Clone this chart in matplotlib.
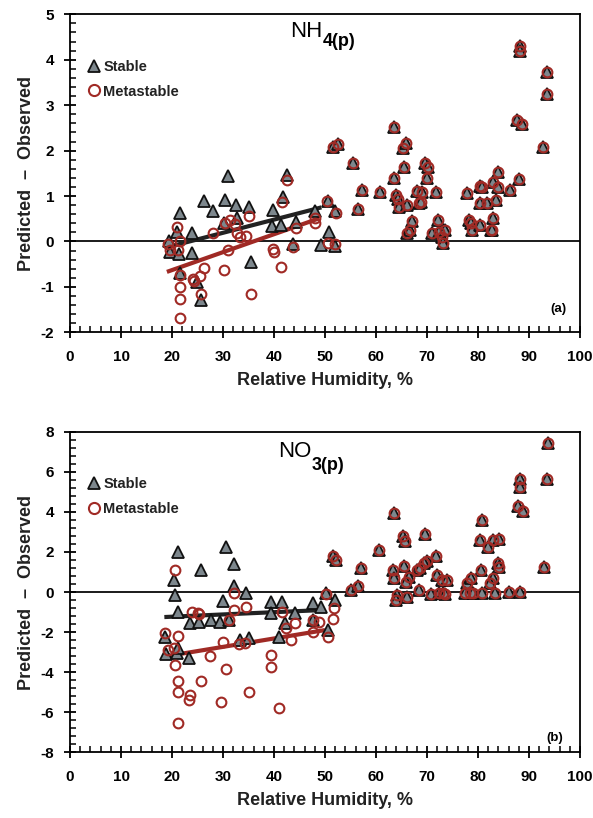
import matplotlib
matplotlib.use("Agg")
import matplotlib.pyplot as plt
from matplotlib.ticker import MultipleLocator
from matplotlib.lines import Line2D

plt.rcParams['font.family'] = ['Liberation Sans', 'DejaVu Sans']
plt.rcParams['axes.unicode_minus'] = False

# ---- NH4 panel data ----
# points where stable and metastable results coincide (RH > ~50 %)
nh4_both_rh = [51.5, 52.5, 55.4, 57.3, 56.5, 60.8, 63.5, 63.5, 64.0, 64.4, 64.5,
               65.3, 65.5, 65.8, 66.1, 66.1, 66.6, 67.0, 68.1, 68.4, 68.8, 69.1,
               69.7, 70.0, 70.2, 70.9, 71.7, 72.2, 72.3, 72.9, 73.1, 73.6, 77.8,
               78.3, 78.7, 78.8, 80.4, 80.4, 80.4, 80.8, 81.7, 82.6, 82.8, 83.0,
               83.0, 83.5, 83.9, 84.0, 86.2, 87.6, 88.0, 88.3, 88.3, 88.6, 92.8,
               93.6, 93.6]
nh4_both = [2.08, 2.15, 1.72, 1.13, 0.72, 1.08, 2.52, 1.40, 1.02, 0.94, 0.76,
            2.05, 1.64, 2.16, 0.80, 0.19, 0.25, 0.45, 1.11, 0.84, 0.87, 1.09,
            1.72, 1.39, 1.64, 0.18, 1.08, 0.47, 0.21, 0.10, -0.04, 0.25, 1.06,
            0.48, 0.40, 0.26, 1.22, 0.84, 0.36, 1.20, 0.85, 0.26, 0.25, 1.31,
            0.51, 0.91, 1.53, 1.20, 1.14, 2.67, 1.37, 4.30, 4.20, 2.58, 2.07,
            3.74, 3.24]

nh4_stable_rh = [21.6, 30.9, 26.2, 30.3, 28.0, 32.5, 35.0, 30.1, 32.7, 24.0, 21.0,
                 19.6, 21.3, 23.9, 21.5, 24.9, 25.7, 35.5, 42.6, 41.8, 39.8, 39.7,
                 41.4, 44.4, 43.7, 48.1, 50.6, 52.0, 50.7, 49.3, 52.0, 19.4]
nh4_stable = [0.62, 1.44, 0.89, 0.92, 0.67, 0.80, 0.76, 0.41, 0.51, 0.18, 0.21,
              -0.23, -0.28, -0.26, -0.70, -0.89, -1.28, -0.46, 1.46, 0.98, 0.69, 0.34,
              0.36, 0.43, -0.06, 0.67, 0.89, 0.67, 0.21, -0.08, -0.10, 0.0]

nh4_meta_rh = [21.0, 19.2, 21.5, 21.2, 19.7, 21.5, 21.6, 21.6, 21.6, 24.1, 25.5,
               26.2, 25.7, 24.3, 28.0, 30.1, 30.9, 30.4, 31.4, 32.4, 35.0, 33.3,
               34.6, 32.7, 35.5, 39.8, 40.0, 41.3, 41.6, 42.6, 44.4, 43.7, 48.0,
               48.0, 50.4, 52.2, 50.5, 52.0]
nh4_meta = [0.31, -0.06, 0.01, -0.18, -0.19, -0.74, -1.00, -1.26, -1.68, -0.82, -0.76,
            -0.59, -1.15, -0.86, 0.19, -0.63, -0.19, 0.40, 0.47, 0.38, 0.56, 0.10,
            0.12, 0.18, -1.15, -0.17, -0.23, -0.57, 0.87, 1.35, 0.29, -0.12, 0.51,
            0.41, 0.89, 0.62, -0.04, -0.06]

nh4_fit_stable_rh = [20.0, 49.3]
nh4_fit_stable = [-0.10, 0.75]
nh4_fit_meta_rh = [19.0, 48.9]
nh4_fit_meta = [-0.67, 0.51]

# ---- NO3 panel data ----
no3_both_rh = [51.5, 52.1, 55.1, 56.4, 57.0, 60.6, 63.5, 65.2, 65.7, 69.6, 80.8,
               63.4, 65.5, 63.5, 71.8, 70.0, 69.4, 68.1, 68.7, 66.5, 65.8, 72.0,
               73.0, 73.9, 64.2, 63.9, 66.1, 68.4, 70.7, 72.3, 73.1, 73.5, 77.8,
               78.7, 80.6, 84.0, 84.1, 83.0, 82.4, 78.5, 80.8, 83.4, 86.1, 88.2,
               79.0, 77.4, 80.3, 83.0, 84.2, 82.0, 93.8, 93.6, 88.2, 88.2, 87.9,
               88.8, 93.0]
no3_both = [1.80, 1.60, 0.08, 0.28, 1.18, 2.10, 3.93, 2.79, 2.56, 2.88, 3.59,
            1.10, 1.30, 0.68, 1.80, 1.56, 1.43, 1.10, 1.18, 0.76, 0.51, 0.85,
            0.60, 0.60, -0.15, -0.40, -0.23, 0.10, -0.10, -0.07, -0.03, -0.10, 0.43,
            0.68, 1.10, 1.43, 1.26, 0.68, 0.43, -0.07, -0.05, -0.05, -0.02, -0.02,
            -0.05, -0.05, 2.59, 2.59, 2.64, 2.23, 7.42, 5.62, 5.62, 5.25, 4.29,
            4.04, 1.26]

no3_stable_rh = [21.2, 30.6, 25.7, 32.2, 20.3, 20.5, 32.2, 34.6, 30.0, 21.2, 27.7,
                 29.4, 31.2, 23.6, 25.2, 18.6, 18.9, 20.9, 21.2, 23.3, 33.3, 35.0,
                 39.5, 41.5, 39.5, 42.2, 44.1, 41.0, 47.6, 49.3, 51.9, 47.6, 50.5,
                 50.2]
no3_stable = [2.01, 2.26, 1.10, 1.38, 0.60, -0.15, 0.32, -0.07, -0.45, -1.01, -1.40,
              -1.48, -1.40, -1.56, -1.48, -2.23, -3.11, -3.06, -2.81, -3.31, -2.40, -2.31,
              -0.48, -0.48, -1.06, -1.56, -1.03, -2.23, -0.56, -0.73, -0.40, -1.40, -1.90,
              -0.07]

no3_meta_rh = [20.5, 18.6, 21.1, 19.2, 20.3, 20.5, 21.1, 21.1, 21.1, 23.6, 23.3,
               25.7, 23.9, 25.0, 25.2, 27.5, 30.0, 30.6, 29.6, 32.2, 32.2, 31.2,
               34.5, 33.2, 34.3, 35.1, 39.5, 39.5, 41.0, 41.5, 42.3, 44.1, 43.4,
               47.6, 48.9, 47.6, 50.5, 51.7, 51.5, 50.1]
no3_meta = [1.10, -2.03, -2.20, -2.89, -2.81, -3.64, -4.43, -4.97, -6.55, -5.14, -5.39,
            -4.43, -0.98, -1.03, -1.10, -3.19, -2.48, -3.86, -5.47, -0.07, -0.90, -1.40,
            -0.76, -2.59, -2.53, -4.97, -3.14, -3.73, -5.77, -0.98, -1.81, -1.56, -2.40,
            -1.40, -1.48, -1.98, -2.23, -0.78, -1.35, -0.10]

no3_fit_stable_rh = [18.5, 49.5]
no3_fit_stable = [-1.25, -0.90]
no3_fit_meta_rh = [19.0, 50.0]
no3_fit_meta = [-3.20, -1.90]

TRI_FACE = '#7d878d'
RED = '#a02a25'


def panel(ax, both_rh, both, st_rh, st, me_rh, me, fst_rh, fst, fme_rh, fme,
          ylim, ymaj, ymin_, name, sub, name_xy, sub_dy, letter, letter_xy):
    ax.axhline(0, color='#1a1a1a', lw=1.4, zorder=1)
    ax.plot(fst_rh, fst, color='#222222', lw=3.0, zorder=2, solid_capstyle='butt')
    ax.plot(fme_rh, fme, color=RED, lw=3.0, zorder=2, solid_capstyle='butt')
    ax.plot(st_rh + both_rh, st + both, ls='none', marker='^', ms=8.5,
            mfc=TRI_FACE, mec='#111111', mew=1.3, zorder=3)
    ax.plot(me_rh + both_rh, me + both, ls='none', marker='o', ms=7.0,
            mfc='none', mec=RED, mew=1.5, zorder=4)

    ax.set_xlim(0, 100)
    ax.set_ylim(*ylim)
    ax.xaxis.set_major_locator(MultipleLocator(10))
    ax.xaxis.set_minor_locator(MultipleLocator(2))
    ax.yaxis.set_major_locator(MultipleLocator(ymaj))
    ax.yaxis.set_minor_locator(MultipleLocator(ymin_))
    ax.tick_params(which='major', direction='inout', length=9, width=1.3,
                   labelsize=11)
    ax.tick_params(which='minor', direction='in', length=4, width=1.1)
    ax.tick_params(axis='x', pad=8)
    ax.tick_params(axis='y', pad=7)
    for lab in ax.get_xticklabels() + ax.get_yticklabels():
        lab.set_fontweight('bold')
    for sp in ax.spines.values():
        sp.set_linewidth(1.3)

    ax.set_xlabel('Relative Humidity, %', fontsize=13, fontweight='bold',
                  color='#222222', labelpad=6)
    ax.set_ylabel('Predicted  \u2013  Observed', fontsize=13, fontweight='bold',
                  color='#222222', labelpad=4)

    ax.text(name_xy[0], name_xy[1], name, transform=ax.transAxes, ha='right',
            va='baseline', fontsize=16)
    ax.text(name_xy[0], name_xy[1] - sub_dy, sub, transform=ax.transAxes,
            ha='left', va='baseline', fontsize=13, fontweight='bold')
    ax.text(letter_xy[0], letter_xy[1], letter, transform=ax.transAxes,
            ha='center', va='center', fontsize=9.5, fontweight='bold')

    handles = [Line2D([], [], ls='none', marker='^', ms=8.5, mfc=TRI_FACE,
                      mec='#111111', mew=1.3),
               Line2D([], [], ls='none', marker='o', ms=8.0, mfc='none',
                      mec=RED, mew=1.5)]
    leg = ax.legend(handles, ['Stable', 'Metastable'], loc='upper left',
                    bbox_to_anchor=(0.017, 0.885), frameon=False,
                    handlelength=0.9, handletextpad=0.2, labelspacing=0.75,
                    borderaxespad=0.2,
                    prop={'size': 10.5, 'weight': 'bold'})
    for t in leg.get_texts():
        t.set_color('#222222')


fig = plt.figure(figsize=(5.93, 8.18), dpi=100)
ax1 = fig.add_axes([70 / 593, 1 - 332.3 / 818, 510 / 593, 318 / 818])
ax2 = fig.add_axes([70 / 593, 1 - 752.3 / 818, 510 / 593, 320.6 / 818])

panel(ax1, nh4_both_rh, nh4_both, nh4_stable_rh, nh4_stable, nh4_meta_rh, nh4_meta,
      nh4_fit_stable_rh, nh4_fit_stable, nh4_fit_meta_rh, nh4_fit_meta,
      (-2, 5), 1, 0.2, 'NH', '4(p)', (0.495, 0.9296), 0.028, '(a)', (0.958, 0.073))
panel(ax2, no3_both_rh, no3_both, no3_stable_rh, no3_stable, no3_meta_rh, no3_meta,
      no3_fit_stable_rh, no3_fit_stable, no3_fit_meta_rh, no3_fit_meta,
      (-8, 8), 2, 0.4, 'NO', '3(p)', (0.473, 0.920), 0.039, '(b)', (0.950, 0.045))

fig.savefig('out.png', dpi=100)
